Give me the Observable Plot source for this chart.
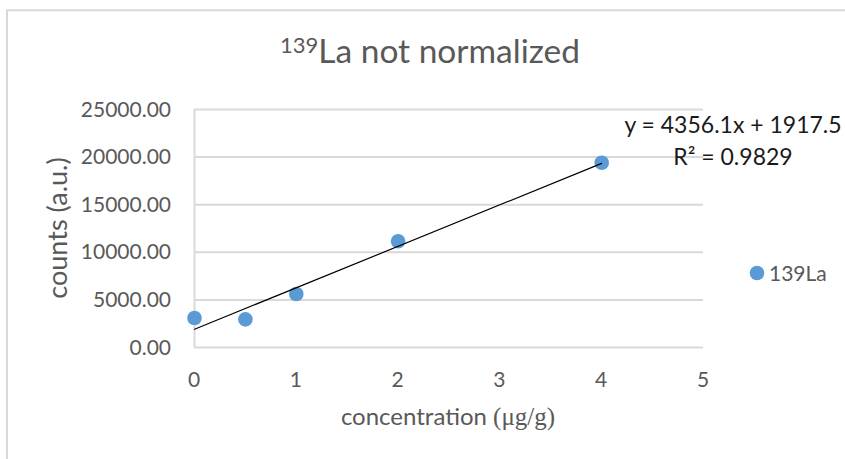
<!DOCTYPE html>
<html><head><meta charset="utf-8">
<script src="https://cdn.jsdelivr.net/npm/d3@7"></script>
<script src="https://cdn.jsdelivr.net/npm/@observablehq/plot@0.6"></script>
<style>
html,body{margin:0;padding:0;background:#fff;}
#chart{position:relative;width:845px;height:459px;overflow:hidden;}
</style></head><body><div id="chart"></div>
<script>
// ---- data ----
const concentrations = [0, 0.5, 1, 2, 4];          // µg/g
const counts = [3095, 2950, 5620, 11160, 19410];   // a.u.
const xTicks = [0, 1, 2, 3, 4, 5];
const yTicks = [0, 5000, 10000, 15000, 20000, 25000];
const seriesName = "139La";
const trendSlope = 4356.1;
const trendIntercept = 1917.5;
const rSquared = 0.9829;

const data = concentrations.map((x, i) => ({x, y: counts[i]}));
const xMin = d3.min(concentrations), xMax = d3.max(concentrations);
const trend = [xMin, xMax].map(x => ({x, y: trendSlope * x + trendIntercept}));

const grey = "#595959", gridGrey = "#d9d9d9", blue = "#5B9BD5";

const svg = Plot.plot({
  width: 845, height: 459,
  marginLeft: 194, marginRight: 142, marginTop: 109, marginBottom: 112,
  style: {background: "#fff"},
  x: {domain: [0, 5], axis: null},
  y: {domain: [0, 25000], axis: null},
  marks: [
    Plot.ruleY(yTicks, {stroke: gridGrey, strokeWidth: 2}),
    Plot.ruleX([0], {stroke: gridGrey, strokeWidth: 2}),
    Plot.dot(data, {x: "x", y: "y", r: 7.3, fill: blue, stroke: "none"}),
    Plot.line(trend, {x: "x", y: "y", stroke: "#000", strokeWidth: 1.2})
  ]
});

const sx = svg.scale("x"), sy = svg.scale("y");
const s = d3.select(svg);

// tick labels positioned with Plot's own scales
const tickFont = 21;
const gx = s.append("g").attr("font-family", "Lato").attr("fill", grey).attr("text-anchor", "middle");
gx.selectAll("text").data(xTicks).join("text")
  .attr("x", d => sx.apply(d)).attr("y", sy.apply(yTicks[0]) + 32 + 0.36 * tickFont)
  .style("font-size", tickFont + "px").text(d => String(d));
const gy = s.append("g").attr("font-family", "Lato").attr("fill", grey).attr("text-anchor", "end");
gy.selectAll("text").data(yTicks).join("text")
  .attr("x", sx.apply(xTicks[0]) - 23).attr("y", d => sy.apply(d) + 0.36 * tickFont)
  .style("font-size", tickFont + "px").text(d => d3.format(".2f")(d));

// outer chart border
s.append("path").attr("d", "M7,459V10.3H845").attr("fill", "none").attr("stroke", gridGrey).attr("stroke-width", 2);

// title
const t = s.append("text").attr("x", 430).attr("y", 63).attr("text-anchor", "middle")
  .attr("font-family", "Lato").attr("fill", grey);
t.append("tspan").style("font-size", "22px").attr("dy", -10).text("139");
t.append("tspan").style("font-size", "33.5px").attr("dy", 10).text("La not normalized");

// x axis title
const xt = s.append("text").attr("x", 448).attr("y", 425).attr("text-anchor", "middle")
  .attr("font-family", "Lato").style("font-size", "24px").attr("fill", grey);
xt.append("tspan").text("concentration ");
xt.append("tspan").attr("font-family", "Liberation Serif").style("font-size", "25px").text("(μg/g)");

// y axis title
s.append("text").attr("transform", "translate(67,228) rotate(-90)").attr("text-anchor", "middle")
  .attr("font-family", "Lato").style("font-size", "27px").attr("fill", grey).text("counts (a.u.)");

// trendline equation
const eq = s.append("g").attr("font-family", "Lato").style("font-size", "23px").attr("fill", "#1a1a1a").attr("text-anchor", "middle");
eq.append("text").attr("x", 733).attr("y", 133).text(`y = ${trendSlope}x + ${trendIntercept}`);
eq.append("text").attr("x", 733).attr("y", 165).text(`R² = ${rSquared}`);

// legend
s.append("circle").attr("cx", 757).attr("cy", 273).attr("r", 7.3).attr("fill", blue);
s.append("text").attr("x", 769).attr("y", 281).attr("text-anchor", "start")
  .attr("font-family", "Lato").style("font-size", "21px").attr("fill", grey).text(seriesName);

document.getElementById("chart").appendChild(svg);
</script></body></html>
